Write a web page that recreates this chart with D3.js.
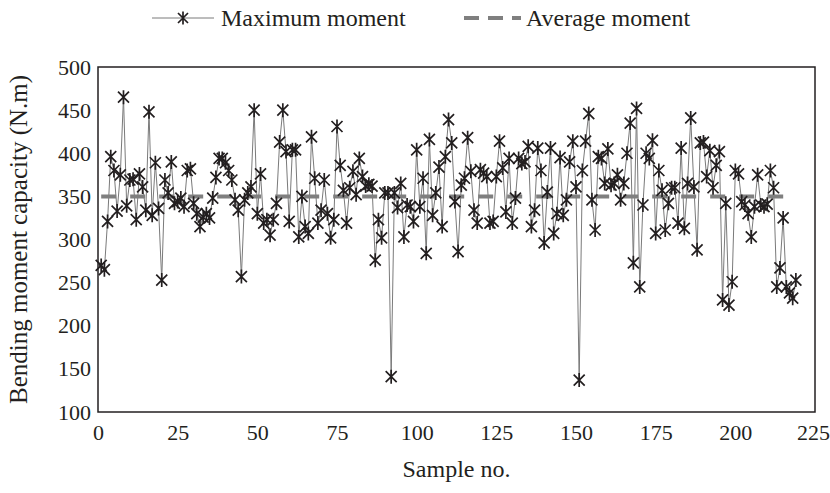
<!DOCTYPE html>
<html><head><meta charset="utf-8">
<script src="https://cdn.jsdelivr.net/npm/d3@7"></script>
</head><body style="margin:0;background:#fff"><svg id="c" width="830" height="493" font-family="Liberation Serif"></svg>
<script>
const maxMoment = [270,265,321,396,380,333,375,465,339,369,370,323,376,361,334,448,328,389,336,253,
369,354,390,342,344,348,338,380,382,342,330,315,326,330,325,348,372,394,394,389,
380,369,346,334,257,346,354,361,450,330,376,319,323,305,323,342,413,450,402,321,
404,404,303,350,315,307,419,371,319,334,369,330,302,323,431,386,357,319,360,379,
352,394,373,362,364,362,276,323,302,354,354,141,354,337,365,303,340,338,321,404,
338,371,284,416,328,354,384,315,396,439,412,344,286,363,371,418,379,334,319,381,
377,373,319,321,373,414,383,332,394,319,348,394,388,390,408,315,334,406,380,296,
355,406,307,330,395,328,346,390,414,361,137,380,414,446,346,311,396,394,365,405,
363,365,375,346,365,400,435,273,452,245,340,400,394,415,307,380,357,311,342,360,
360,319,406,313,365,441,361,288,412,413,373,403,360,386,402,230,342,224,251,380,
376,344,340,330,303,338,375,340,338,341,380,360,245,267,325,245,238,232,253];
const averageMoment = 350;
const xTicks = [0,25,50,75,100,125,150,175,200,225];
const yTicks = [100,150,200,250,300,350,400,450,500];
const seriesNames = ["Maximum moment","Average moment"];
const xTitle = "Sample no.";
const yTitle = "Bending moment capacity (N.m)";

const FONT = "Liberation Serif";
const INK = "#231f20";
const svg = d3.select("#c");
const L=98,R=815,T=67,B=412;
const x = d3.scaleLinear().domain([0,225]).range([L,R]);
const y = d3.scaleLinear().domain([100,500]).range([B,T]);
const data = maxMoment.map((v,i)=>({s:i+1,v}));

const xa = svg.append("g").attr("transform",`translate(0,${B})`)
  .call(d3.axisBottom(x).tickValues(xTicks).tickSize(0).tickPadding(12).tickFormat(d3.format("d")));
const ya = svg.append("g").attr("transform",`translate(${L},0)`)
  .call(d3.axisLeft(y).tickValues(yTicks).tickSize(0).tickPadding(7).tickFormat(d3.format("d")));
[xa,ya].forEach(g=>{g.select(".domain").remove();g.attr("font-family",FONT).attr("font-size",22);
  g.selectAll("text").attr("font-family",FONT).style("font-family",FONT).attr("fill",INK);});
xa.selectAll("text").filter(d=>d===225).attr("dx",-2);

svg.append("path").datum(data).attr("fill","none").attr("stroke","#7a7a7a").attr("stroke-width",1)
  .attr("d",d3.line().x(d=>x(d.s)).y(d=>y(d.v)));
svg.append("path").datum([1,maxMoment.length]).attr("fill","none").attr("stroke","#7f7f7f")
  .attr("stroke-width",4).attr("stroke-dasharray","15 14")
  .attr("d",d3.line().x(d=>x(d)).y(()=>y(averageMoment)));

const star = (g,cx,cy,r)=>{
  g.append("path").attr("d",`M${cx-r},${cy-r}L${cx+r},${cy+r}M${cx-r},${cy+r}L${cx+r},${cy-r}M${cx},${cy-r-1.5}L${cx},${cy+r+1.5}`)
   .attr("stroke",INK).attr("stroke-width",1.7).attr("fill","none");
};
const mk = svg.append("g");
data.forEach(d=>star(mk,x(d.s),y(d.v),5.5));

svg.append("rect").attr("x",L).attr("y",T).attr("width",R-L).attr("height",B-T)
  .attr("fill","none").attr("stroke",INK).attr("stroke-width",1.5);

const txt = (g,size)=>g.append("text").attr("font-family",FONT).style("font-family",FONT).attr("font-size",size).attr("fill",INK);
txt(svg,24).attr("x",(L+R)/2).attr("y",477).attr("text-anchor","middle").text(xTitle);
txt(svg,25).attr("transform",`translate(27,${(T+B)/2}) rotate(-90)`).attr("text-anchor","middle").text(yTitle);

const lg = svg.append("g");
lg.append("line").attr("x1",152).attr("x2",214).attr("y1",18).attr("y2",18).attr("stroke","#7a7a7a").attr("stroke-width",1);
star(lg,183,18,5);
txt(lg,24).attr("x",221).attr("y",26).text(seriesNames[0]);
lg.append("line").attr("x1",464).attr("x2",521).attr("y1",18).attr("y2",18).attr("stroke","#7f7f7f").attr("stroke-width",4).attr("stroke-dasharray","15 9");
txt(lg,24).attr("x",526).attr("y",26).text(seriesNames[1]);
</script></body></html>
